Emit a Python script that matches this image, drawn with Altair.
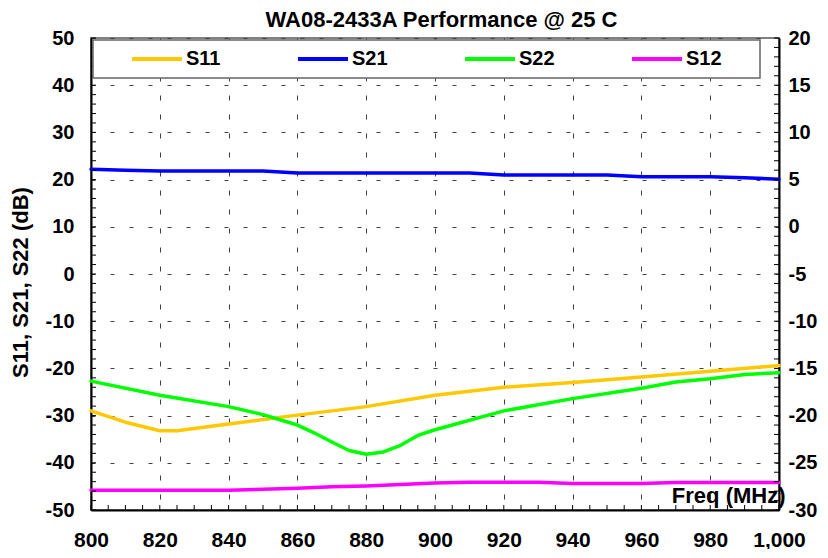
import altair as alt
import pandas as pd

title_text = "WA08-2433A Performance @ 25 C"
y_title = "S11, S21, S22 (dB)"
x_title = "Freq (MHz)"

series_names = ["S11", "S21", "S22", "S12"]
series_colors = ["#FFC800", "#0000FF", "#00FF00", "#FF00FF"]

s11_freq = [800, 810, 820, 825, 840, 860, 880, 900, 920, 940, 960, 980, 1000]
s11_db = [-29.0, -31.4, -33.2, -33.2, -31.8, -29.9, -28.1, -25.7, -24.0, -23.0, -21.8, -20.6, -19.4]

s21_freq = [800, 810, 820, 830, 840, 850, 860, 870, 880, 890, 900, 910, 920, 930, 940, 950, 960, 970, 980, 990, 1000]
s21_db = [22.2, 22.0, 21.8, 21.8, 21.8, 21.8, 21.4, 21.4, 21.4, 21.4, 21.4, 21.4, 21.0, 21.0, 21.0, 21.0, 20.6, 20.6, 20.6, 20.4, 20.1]

s22_freq = [800, 820, 840, 850, 860, 865, 870, 875, 880, 885, 890, 895, 900, 920, 940, 960, 970, 980, 990, 1000]
s22_db = [-22.7, -25.7, -28.1, -29.8, -32.0, -33.7, -35.6, -37.4, -38.2, -37.7, -36.3, -34.2, -33.0, -29.0, -26.4, -24.2, -22.9, -22.2, -21.3, -20.9]

s12_freq = [800, 820, 840, 850, 860, 870, 880, 890, 900, 910, 920, 930, 940, 950, 960, 970, 980, 990, 1000]
s12_db = [-45.8, -45.8, -45.8, -45.6, -45.4, -45.1, -44.9, -44.6, -44.3, -44.1, -44.1, -44.1, -44.4, -44.4, -44.4, -44.2, -44.2, -44.2, -44.2]

x_major = list(range(800, 1001, 20))
x_minor = list(range(800, 1001, 5))
y_left_major = list(range(-50, 51, 10))
y_left_minor = list(range(-50, 51, 2))
y_right_major = list(range(-30, 21, 5))
y_right_minor = list(range(-30, 21, 1))

rows = []
for name, fr, vals in [("S11", s11_freq, s11_db), ("S21", s21_freq, s21_db),
                       ("S22", s22_freq, s22_db), ("S12", s12_freq, s12_db)]:
    rows += [{"freq": f, "db": v, "series": name} for f, v in zip(fr, vals)]
df = pd.DataFrame(rows)

W, H = 688, 472
FONT = "Liberation Sans"

xscale = alt.Scale(domain=[800, 1000], nice=False, zero=False)
yscale = alt.Scale(domain=[-50, 50], nice=False, zero=False)
rscale = alt.Scale(domain=[-30, 20], nice=False, zero=False)

lines = alt.Chart(df).mark_line(strokeWidth=3.5, strokeJoin="round", strokeCap="round").encode(
    x=alt.X("freq:Q", scale=xscale, axis=alt.Axis(
        values=x_major, labelExpr="format(datum.value, ',.0f')",
        labelFont=FONT, labelFontSize=21, labelFontWeight="bold",
        labelColor="black", labelPadding=19, ticks=False, tickSize=0,
        domainColor="black", domainWidth=2,
        grid=True, gridDash=[5, 14], gridColor="#404040", gridWidth=1,
        title=x_title, titleFont=FONT, titleFontSize=22, titleFontWeight="bold", titleColor="black",
        titleX=W + 6, titleY=-3, titleAlign="right", titleBaseline="bottom",
        labelFlush=False, labelOverlap=False)),
    y=alt.Y("db:Q", scale=yscale, axis=alt.Axis(
        values=y_left_major, labelExpr="'' + datum.value",
        labelFont=FONT, labelFontSize=20, labelFontWeight="bold",
        labelColor="black", labelPadding=17, ticks=False, tickSize=0,
        domainColor="black", domainWidth=2,
        grid=True, gridDash=[4, 15], gridColor="#404040", gridWidth=1,
        title=y_title, titleFont=FONT, titleFontSize=22, titleFontWeight="bold", titleColor="black",
        titleAngle=270, titleX=-59, titleY=244, titleAlign="center", titleBaseline="bottom",
        labelFlush=False, labelOverlap=False)),
    color=alt.Color("series:N", scale=alt.Scale(domain=series_names, range=series_colors),
                    legend=alt.Legend(
                        orient="none", legendX=2, legendY=2, direction="horizontal", columns=4,
                        symbolType="stroke", symbolSize=2500, symbolStrokeWidth=4, clipHeight=22,
                        symbolOffset=29,
                        labelFont=FONT, labelFontSize=20, labelFontWeight="bold", labelColor="black",
                        labelOffset=2, columnPadding=46, padding=8,
                        title=" ", titleOrient="right", titlePadding=30, titleFontSize=20,
                        strokeColor="#666666", fillColor="white")),
)

left_ticks = alt.Chart(pd.DataFrame({"v": y_left_minor})).mark_rule(color="black", strokeWidth=1).encode(
    y=alt.Y("v:Q", scale=yscale, axis=None), x=alt.value(0), x2=alt.value(5))

# minor ticks along the bottom; its (top) axis carries the chart title
bottom_ticks = alt.Chart(pd.DataFrame({"f": x_minor})).mark_rule(color="black", strokeWidth=1).encode(
    x=alt.X("f:Q", scale=xscale, axis=alt.Axis(
        orient="top", labels=False, ticks=False, domain=False, grid=False,
        title=title_text, titleFont=FONT, titleFontSize=22, titleFontWeight="bold", titleColor="black",
        titleX=350, titleY=-7, titleAlign="center", titleBaseline="bottom")),
    y=alt.value(H), y2=alt.value(H - 5))

right_ticks = alt.Chart(pd.DataFrame({"r": y_right_minor})).mark_rule(color="black", strokeWidth=1).encode(
    y=alt.Y("r:Q", scale=rscale, axis=alt.Axis(
        orient="right", values=y_right_major, labelExpr="'' + datum.value",
        labelFont=FONT, labelFontSize=20, labelFontWeight="bold",
        labelColor="black", labelPadding=9, ticks=False, tickSize=0,
        domainColor="black", domainWidth=2, grid=False, title=None,
        labelFlush=False, labelOverlap=False)),
    x=alt.value(W - 5), x2=alt.value(W))

chart = alt.layer(lines, left_ticks, bottom_ticks, right_ticks).resolve_scale(
    x="independent", y="independent").properties(
    width=W, height=H,
    padding={"left": 83, "top": 30, "right": 41, "bottom": 39},
    autosize=alt.AutoSizeParams(type="none"),
).configure_view(stroke="#808080", strokeWidth=2).configure_legend(strokeWidth=1.5)

chart.save("out.html", embed_options={"renderer": "svg", "actions": False})
